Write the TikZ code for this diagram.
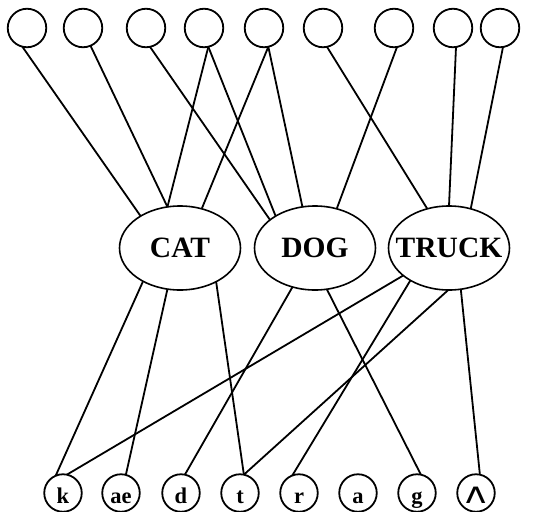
\documentclass[tikz,border=0pt]{standalone}
\usepackage{fontspec}
\usepackage{graphicx}
\setmainfont{Liberation Serif}
\newfontfamily\wedgefont{DejaVu Sans}
\usetikzlibrary{shapes.geometric}
\begin{document}
\begin{tikzpicture}[x=1pt,y=-1pt,
  line width=1.8pt,
  unit/.style={draw,circle,minimum size=38.5pt,inner sep=0pt,outer sep=0pt},
  word/.style={draw,ellipse,minimum width=121pt,minimum height=84pt,inner sep=0pt,outer sep=0pt,
    line width=1.6pt,font=\fontsize{29.5}{30}\selectfont\bfseries},
  phone/.style={draw,circle,minimum size=37.5pt,inner sep=0pt,outer sep=0pt,
    text height=20pt,text depth=0pt,font=\fontsize{22.5}{24}\selectfont\bfseries},
  link/.style={line width=1.8pt}]
\useasboundingbox (0,0) rectangle (542,512);

% feature units
\node[unit] (t1) at (27,28) {};
\node[unit] (t2) at (83,28) {};
\node[unit] (t3) at (146,28) {};
\node[unit] (t4) at (204,28) {};
\node[unit] (t5) at (264,28) {};
\node[unit] (t6) at (323,28) {};
\node[unit] (t7) at (394,28) {};
\node[unit] (t8) at (453,28) {};
\node[unit] (t9) at (500,28) {};

% word units (zero-width label boxes keep the ellipses the same size)
\node[word] (cat) at (180,248) {\makebox[0pt]{CAT}};
\node[word] (dog) at (315,248) {\makebox[0pt]{DOG}};
\node[word] (truck) at (449,248) {\makebox[0pt]{TRUCK}};

% phoneme units
\node[phone] (phk) at (63,493) {k};
\node[phone] (phae) at (121,493) {ae};
\node[phone] (phd) at (181,493) {d};
\node[phone] (pht) at (240,493) {t};
\node[phone] (phr) at (299,493) {r};
\node[phone] (pha) at (358,493) {a};
\node[phone] (phg) at (417,493) {g};
\node[phone] (phw) at (476,493) {\scalebox{1.2}[1]{\wedgefont\mdseries\fontsize{30}{30}\selectfont ʌ}};

% feature-to-word links
\draw[link] (t1.-104) -- (cat.141);
\draw[link] (t2.-67) -- (cat.107);
\draw[link] (t3.-78) -- (dog.148);
\draw[link] (t4.-77) -- (cat.107);
\draw[link] (t4.-77) -- (dog.141);
\draw[link] (t5.-77) -- (cat.61);
\draw[link] (t5.-77) -- (dog.107);
\draw[link] (t6.-78) -- (truck.119);
\draw[link] (t7.-81) -- (dog.61);
\draw[link] (t8.-81) -- (truck.90);
\draw[link] (t9.-81) -- (truck.61);

% word-to-phoneme links
\draw[link] (cat.-138) -- (phk.113);
\draw[link] (cat.-107) -- (phae.75);
\draw[link] (cat.-43) -- (pht.78);
\draw[link] (dog.-120) -- (phd.78);
\draw[link] (dog.-74) -- (phg.78);
\draw[link] (truck.-149) -- (phk.78);
\draw[link] (truck.-140) -- (phr.111);
\draw[link] (truck.-91) -- (pht.78);
\draw[link] (truck.-74) -- (phw.78);
\end{tikzpicture}
\end{document}
